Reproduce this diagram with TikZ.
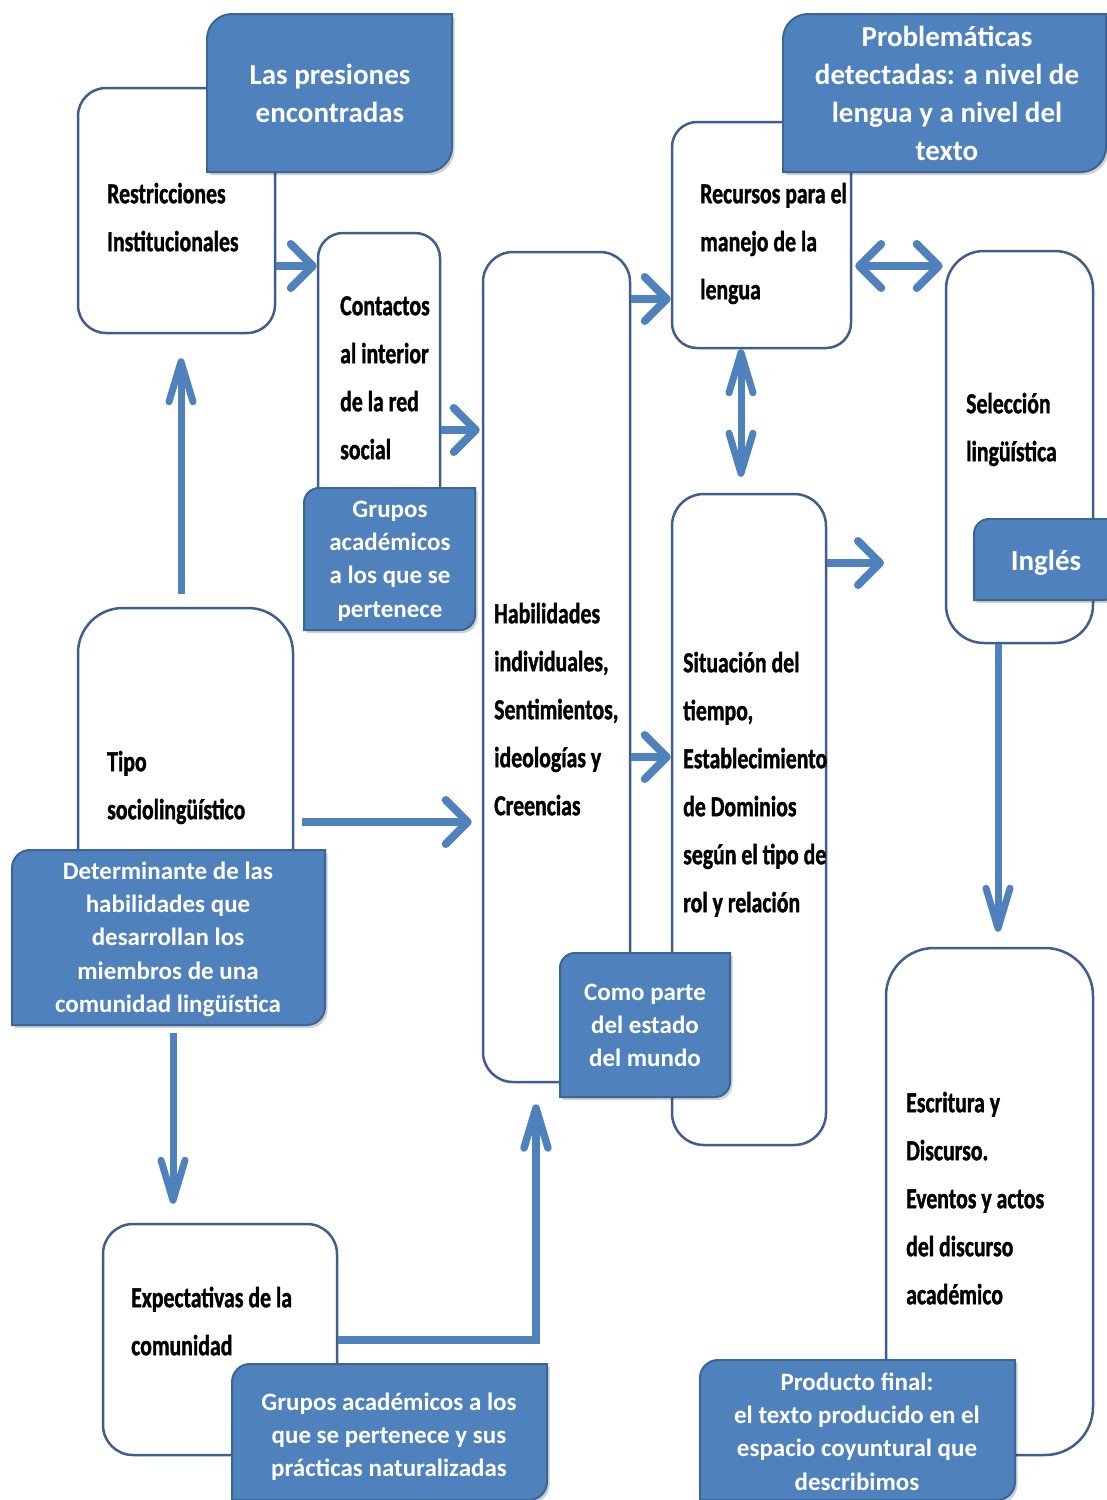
\documentclass[tikz,border=0pt]{standalone}
\usepackage{fontspec}
\setmainfont{Carlito}
\newfontfamily\narrowfont[FakeStretch=0.75,FakeBold=1.2]{Carlito}
\usetikzlibrary{arrows.meta,fit,calc}

\definecolor{accent}{HTML}{4F81BD}
\definecolor{accentdark}{HTML}{3A6597}
\definecolor{frame}{HTML}{3F5E8C}

% strut that fixes the height of a first line
\newcommand\firststrut{\rule{0pt}{0.8em}}

\tikzset{
  wbox/.style={draw=frame, line width=2.5pt, fill=white, inner sep=0pt},
  wtext/.style={anchor=north west, inner sep=0pt, align=left, text=black,
    font=\narrowfont\bfseries\fontsize{29}{48}\selectfont},
  btext/.style={anchor=north, inner sep=0pt, align=center, text=white,
    font=\bfseries\fontsize{25}{33.3}\selectfont},
  bigbtext/.style={anchor=north, inner sep=0pt, align=center, text=white,
    font=\bfseries\fontsize{29}{38}\selectfont},
  calloutfill/.style={fill=accent, draw=accentdark, line width=2pt},
  calloutshadow/.style={fill=black, opacity=0.18},
  flowh/.style={draw=accent, line width=8pt,
    -{Straight Barb[length=22pt,width=44pt,round]}},
  flowhh/.style={draw=accent, line width=8pt,
    {Straight Barb[length=22pt,width=44pt,round]}-{Straight Barb[length=22pt,width=44pt,round]}},
  flowv/.style={draw=accent, line width=7pt,
    -{Straight Barb[length=40pt,width=24pt,round]}},
  flowvv/.style={draw=accent, line width=7pt,
    {Straight Barb[length=40pt,width=24pt,round]}-{Straight Barb[length=40pt,width=24pt,round]}},
}

% blue label box with rounded top-left and bottom-right corners
% #1 name, #2 x1, #3 y1, #4 x2, #5 y2, #6 radius
\newcommand\diagcallout[6]{%
  \node[inner sep=0pt, fit={(#2,#3) (#4,#5)}] (#1) {};
  \path[calloutshadow, shift={(2.5,3)}] (#2,#5) -- (#2,#3+#6)
    arc[start angle=180, end angle=270, radius=#6] -- (#4,#3) -- (#4,#5-#6)
    arc[start angle=0, end angle=90, radius=#6] -- cycle;
  \path[calloutfill] (#2,#5) -- (#2,#3+#6)
    arc[start angle=180, end angle=270, radius=#6] -- (#4,#3) -- (#4,#5-#6)
    arc[start angle=0, end angle=90, radius=#6] -- cycle;
}

\begin{document}
\begin{tikzpicture}[x=1pt, y=-1pt]
\useasboundingbox (0,0) rectangle (1107,1500);
\fill[white] (0,0) rectangle (1107,1500);

% ---- white concept boxes
\node[wbox, rounded corners=28pt, fit={(78,88) (275,333)}] (restr) {};
\node[wbox, rounded corners=25pt, fit={(318,233) (440,560)}] (contact) {};
\node[wbox, rounded corners=30pt, fit={(483,252) (630,1082)}] (hab) {};
\node[wbox, rounded corners=25pt, fit={(672,122) (851,348)}] (recursos) {};
\node[wbox, rounded corners=38pt, fit={(946,251) (1093,643)}] (selec) {};
\node[wbox, rounded corners=32pt, fit={(672,494) (826,1145)}] (sit) {};
\node[wbox, rounded corners=45pt, fit={(78,608) (293,900)}] (tipo) {};
\node[wbox, rounded corners=30pt, fit={(103,1224) (337,1455)}] (expect) {};
\node[wbox, rounded corners=48pt, fit={(886,948) (1093,1455)}] (escr) {};

\node[wtext] (restrT) at (107,179.8) {\firststrut Restricciones\\Institucionales};
\node[wtext] (contactT) at (340,291.8) {\firststrut Contactos\\al interior\\de la red\\social};
\node[wtext] (habT) at (494,599.8) {\firststrut Habilidades\\individuales,\\Sentimientos,\\ideologías y\\Creencias};
\node[wtext] (recursosT) at (700,179.8) {\firststrut Recursos para el\\manejo de la\\lengua};
\node[wtext] (selecT) at (966,389.8) {\firststrut Selección\\lingüística};
\node[wtext] (sitT) at (683,648.8) {\firststrut Situación del\\tiempo,\\Establecimiento\\de Dominios\\según el tipo de\\rol y relación};
\node[wtext] (tipoT) at (107,747.8) {\firststrut Tipo\\sociolingüístico};
\node[wtext] (expectT) at (131,1283.8) {\firststrut Expectativas de la\\comunidad};
\node[wtext] (escrT) at (906,1088.8) {\firststrut Escritura y\\Discurso.\\Eventos y actos\\del discurso\\académico};

% ---- blue label boxes
\diagcallout{presiones}{207}{14}{452}{172}{25}
\diagcallout{problem}{783}{14}{1106}{172}{25}
\diagcallout{gruposA}{304}{488}{475}{630}{15}
\diagcallout{determ}{12}{850}{325}{1025}{18}
\diagcallout{como}{560}{953}{730}{1097}{15}
\diagcallout{gruposB}{232}{1364}{547}{1500}{18}
\diagcallout{producto}{700}{1360}{1015}{1500}{18}
\diagcallout{ingles}{974}{519}{1118}{600}{15}

\node[bigbtext] (presionesT) at (330,60.8) {\firststrut Las presiones\\encontradas};
\node[bigbtext] (problemT) at (947,22.8) {\firststrut Problemáticas\\detectadas: a nivel de\\lengua y a nivel del\\texto};
\node[btext] (gruposAT) at (390,497) {\firststrut Grupos\\académicos\\a los que se\\pertenece};
\node[btext] (determT) at (168,859) {\firststrut Determinante de las\\habilidades que\\desarrollan los\\miembros de una\\comunidad lingüística};
\node[btext] (comoT) at (645,980) {\firststrut Como parte\\del estado\\del mundo};
\node[btext] (gruposBT) at (389,1390) {\firststrut Grupos académicos a los\\que se pertenece y sus\\prácticas naturalizadas};
\node[btext] (productoT) at (857,1370) {\firststrut Producto final:\\el texto producido en el\\espacio coyuntural que\\describimos};
\node[bigbtext] (inglesT) at (1046,546.8) {\firststrut Inglés};

% ---- connectors
\coordinate (sitout) at (884,563);
\draw[flowh] (restr.east |- 0,266) -- (contact.west |- 0,266);
\draw[flowh] (contact.east |- 0,430) -- ($(hab.west |- 0,430)+(-2,0)$);
\draw[flowh] (hab.east |- 0,299) -- (recursos.west |- 0,299);
\draw[flowhh] ($(recursos.east |- 0,266)+(3,0)$) -- ($(selec.west |- 0,266)+(-2,0)$);
\draw[flowvv] (recursos.south -| 741,0) -- ($(sit.north -| 741,0)+(0,-16)$);
\draw[flowh] (sit.east |- sitout) -- (sitout);
\draw[flowh] (hab.east |- 0,757) -- (sit.west |- 0,757);
\draw[flowh] ($(tipo.east |- 0,822)+(8,0)$) -- ($(hab.west |- 0,822)+(-10,0)$);
\draw[flowv] ($(tipo.north -| 181,0)+(0,-13)$) -- ($(restr.south -| 181,0)+(0,24)$);
\draw[flowv] ($(determ.south -| 173,0)+(0,8)$) -- ($(expect.north -| 173,0)+(0,-19)$);
\draw[flowv, line width=7.5pt] (expect.east |- 0,1340) -| ($(hab.south -| 536,0)+(0,21)$);
\draw[flowv] (selec.south -| 998,0) -- ($(escr.north -| 998,0)+(0,-15)$);
\end{tikzpicture}
\end{document}
